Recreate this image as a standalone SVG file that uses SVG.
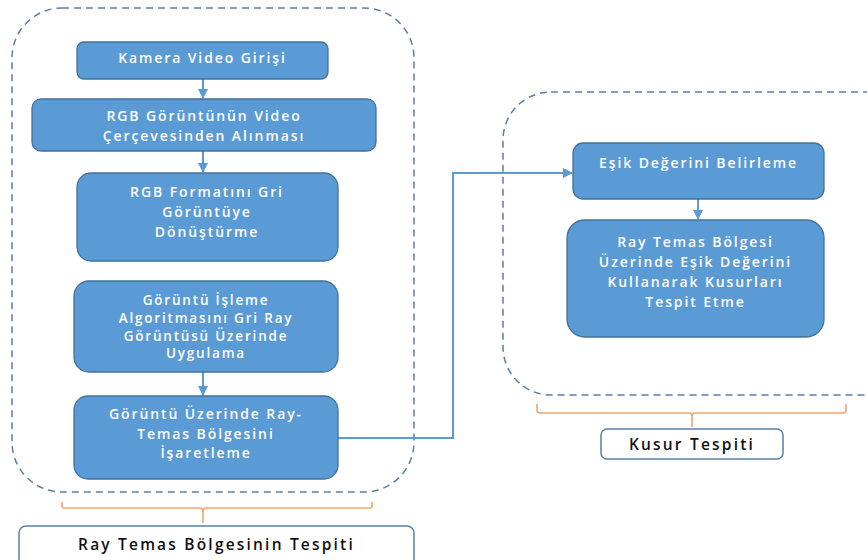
<svg xmlns="http://www.w3.org/2000/svg" width="867" height="560" viewBox="0 0 867 560">
<style>
.node{fill:#5B9BD5;stroke:#41719C;stroke-width:1.3}
.nt{fill:#fff;font-family:"Open Sans","Liberation Sans",sans-serif;font-size:14px;font-weight:600;text-anchor:middle;letter-spacing:1.9px}
.sm{font-size:13.5px;letter-spacing:1.8px}
.cont{fill:none;stroke:#5A7FA8;stroke-width:1.5;stroke-dasharray:7 5}
.brace{fill:none;stroke:#F4A46A;stroke-width:1.6}
.lab{fill:#fff;stroke:#5A7FA8;stroke-width:1.5}
.lt{fill:#111;font-family:"Open Sans","Liberation Sans",sans-serif;font-size:15.5px;font-weight:600;text-anchor:middle;letter-spacing:2.2px}
.conn{fill:none;stroke:#5B9BD5;stroke-width:2}
</style>
<defs>
<marker id="ah2" viewBox="0 0 10 10" refX="9" refY="5" markerWidth="10" markerHeight="10" orient="auto" markerUnits="userSpaceOnUse">
<path d="M0,0L10,5L0,10z" fill="#5B9BD5"/>
</marker>
</defs>
<rect width="867" height="560" fill="#fff"/>
<g id="containers">
<rect class="cont" x="12" y="8" width="402" height="484" rx="50"/>
<rect class="cont" x="503" y="92" width="410" height="303" rx="48"/>
</g>
<g id="connectors">
<line class="conn" x1="203" y1="79" x2="203" y2="98" marker-end="url(#ah2)"/>
<line class="conn" x1="203" y1="151" x2="203" y2="172" marker-end="url(#ah2)"/>
<line class="conn" x1="203" y1="372" x2="203" y2="395" marker-end="url(#ah2)"/>
<line class="conn" x1="698" y1="199" x2="698" y2="219" marker-end="url(#ah2)"/>
<polyline class="conn" points="338,438 453,438 453,173 572,173" marker-end="url(#ah2)"/>
</g>
<g id="n1">
<rect class="node" x="77" y="42" width="251" height="37" rx="7"/>
<text class="nt" x="202.5" y="63">Kamera Video Girişi</text>
</g>
<g id="n2">
<rect class="node" x="32" y="99" width="344" height="52" rx="9"/>
<text class="nt" x="204" y="121">RGB Görüntünün Video</text>
<text class="nt" x="204" y="141">Çerçevesinden Alınması</text>
</g>
<g id="n3">
<rect class="node" x="77" y="173" width="261" height="88" rx="14"/>
<text class="nt" x="207" y="197">RGB Formatını Gri</text>
<text class="nt" x="207" y="217">Görüntüye</text>
<text class="nt" x="207" y="237">Dönüştürme</text>
</g>
<g id="n4">
<rect class="node" x="74" y="281" width="264" height="91" rx="15"/>
<text class="nt sm" x="206" y="305">Görüntü İşleme</text>
<text class="nt sm" x="206" y="323">Algoritmasını Gri Ray</text>
<text class="nt sm" x="206" y="341">Görüntüsü Üzerinde</text>
<text class="nt sm" x="206" y="358">Uygulama</text>
</g>
<g id="n5">
<rect class="node" x="74" y="396" width="264" height="83" rx="14"/>
<text class="nt" x="206" y="419">Görüntü Üzerinde Ray-</text>
<text class="nt" x="206" y="439">Temas Bölgesini</text>
<text class="nt" x="206" y="458">İşaretleme</text>
</g>
<g id="n6">
<rect class="node" x="573" y="143" width="251" height="56" rx="10"/>
<text class="nt" x="698.5" y="168">Eşik Değerini Belirleme</text>
</g>
<g id="n7">
<rect class="node" x="567" y="220" width="257" height="117" rx="18"/>
<text class="nt" x="695.5" y="247">Ray Temas Bölgesi</text>
<text class="nt" x="695.5" y="267">Üzerinde Eşik Değerini</text>
<text class="nt" x="695.5" y="287">Kullanarak Kusurları</text>
<text class="nt" x="695.5" y="307">Tespit Etme</text>
</g>
<g id="brace1">
<path class="brace" d="M62,502 V506 Q62,508 64,508 H200 Q203,508 203,512 V523 M203,512 Q203,508 206,508 H370 Q372,508 372,506 V502"/>
</g>
<g id="brace2">
<path class="brace" d="M537,404 V410 Q537,413 540,413 H689 Q692,413 692,417 V427 M692,417 Q692,413 695,413 H843 Q846,413 846,410 V404"/>
</g>
<g id="label1">
<rect class="lab" x="19" y="526" width="395" height="44" rx="7"/>
<text class="lt" x="216.5" y="550">Ray Temas Bölgesinin Tespiti</text>
</g>
<g id="label2">
<rect class="lab" x="601" y="429" width="182" height="30" rx="6"/>
<text class="lt" x="692" y="450">Kusur Tespiti</text>
</g>
</svg>
